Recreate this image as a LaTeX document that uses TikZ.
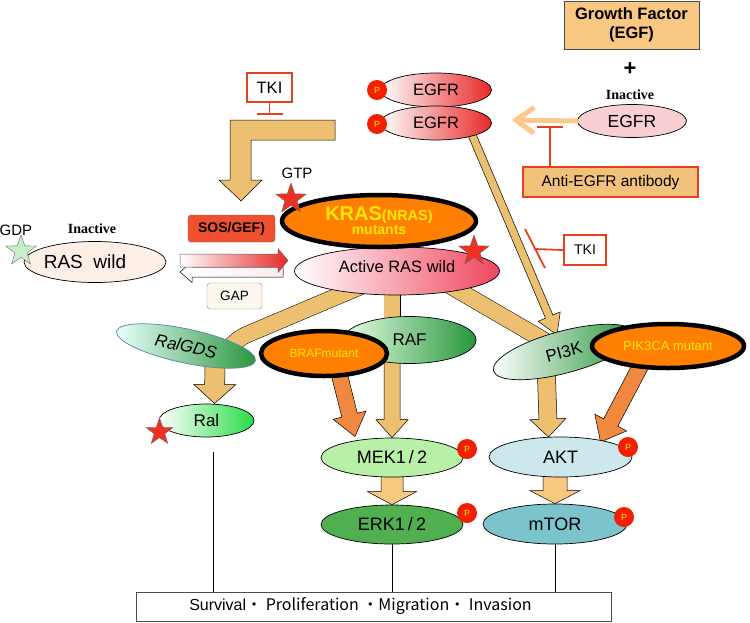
\documentclass[tikz,border=0pt]{standalone}
\usepackage{fontspec}
\setmainfont{Liberation Sans}
\newfontfamily\tnr{Liberation Serif}
\newfontfamily\cjk{Noto Sans CJK JP}
\usetikzlibrary{shapes.geometric,arrows.meta,calc}
\pgfdeclarelayer{bg}
\pgfsetlayers{bg,main}
\newcommand\fsz[1]{\fontsize{#1}{#1}\selectfont}
\newcommand\blockarr[6]{%
  \coordinate (bah) at ($(#2)!#5!(#1)$);
  \draw[#6] ($(#1)!#3!90:(#2)$) -- ($(bah)!#3!90:(#2)$) -- ($(bah)!#4!90:(#2)$) -- (#2) -- ($(bah)!#4!-90:(#2)$) -- ($(bah)!#3!-90:(#2)$) -- ($(#1)!#3!-90:(#2)$) -- cycle;}
\definecolor{tanc}{RGB}{236,192,112}
\definecolor{ltan}{RGB}{249,200,128}
\definecolor{mutor}{RGB}{255,128,0}
\definecolor{orarr}{RGB}{240,136,64}
\definecolor{starred}{RGB}{240,48,32}
\definecolor{pred}{RGB}{240,32,0}
\definecolor{yel}{RGB}{255,232,0}
\definecolor{egfred}{RGB}{232,40,40}
\definecolor{rasred}{RGB}{240,70,95}
\definecolor{egfin}{RGB}{248,208,212}
\definecolor{raswc}{RGB}{253,238,230}
\definecolor{dgreen}{RGB}{40,150,60}
\definecolor{brgreen}{RGB}{40,220,70}
\definecolor{mekc}{RGB}{184,240,168}
\definecolor{erkc}{RGB}{80,176,80}
\definecolor{aktc}{RGB}{204,232,236}
\definecolor{mtorc}{RGB}{124,196,204}
\definecolor{gfc}{RGB}{248,200,130}
\definecolor{abfill}{RGB}{242,194,124}
\definecolor{inred}{RGB}{232,64,28}
\definecolor{sosred}{RGB}{240,80,48}
\definecolor{gapc}{RGB}{253,248,238}
\definecolor{gstar}{RGB}{200,240,200}
\definecolor{lor}{RGB}{252,200,140}
\definecolor{ralb}{RGB}{90,130,170}
\tikzset{
  ell/.style={ellipse, draw=black, line width=0.7pt, inner sep=0pt},
  mut/.style={ellipse, draw=black, line width=4.5pt, fill=mutor, inner sep=0pt, text=yel},
  pdot/.style={circle, fill=pred, inner sep=0pt, minimum size=20pt, text=yel, font=\fsz{9}},
  rstar/.style={star, star points=5, star point ratio=2.5, fill=starred, draw=black!60, line width=0.4pt, inner sep=0pt, minimum size=32pt},
  band/.style={draw=black, line width=0.5pt, double=tanc, double distance=16pt},
  barr/.style={fill=tanc, draw=black, line width=0.5pt},
  inh/.style={draw=inred, line width=1.8pt, -{Bar[width=26pt]}},
  redbox/.style={draw=inred, line width=1.8pt, fill=white, inner sep=0pt},
  lbl/.style={inner sep=0pt},
}
\begin{document}
\begin{tikzpicture}[x=1pt,y=-1pt]
\useasboundingbox (0,0) rectangle (750,622);

% ---------- nodes ----------
\node[draw=black!70, fill=gfc, minimum width=135pt, minimum height=48pt, align=center, font=\bfseries\fontsize{16.5}{19}\selectfont] (gf) at (631.5,25) {Growth Factor\\(EGF)};
\node[lbl, font=\bfseries\fsz{22}] (plus) at (630,69) {+};
\node[lbl, font=\tnr\bfseries\fsz{14}] (inact2) at (630,95) {Inactive};
\node[ell, fill=egfin, minimum width=109pt, minimum height=33pt, font=\fsz{17.5}] (egfrin) at (632,121) {EGFR};
\node[draw=inred, line width=2pt, fill=abfill, minimum width=175pt, minimum height=30pt, font=\fsz{15.5}] (anti) at (610.5,182) {Anti-EGFR antibody};

\node[ell, left color=white, right color=egfred, minimum width=111pt, minimum height=34pt, font=\fsz{16.5}] (egfr1) at (436,90) {EGFR};
\node[ell, left color=white, right color=egfred, minimum width=111pt, minimum height=34pt, font=\fsz{16.5}] (egfr2) at (436,123) {EGFR};
\node[pdot] (p1) at (377,90) {P};
\node[pdot] (p2) at (377,124) {P};

\node[redbox, minimum width=45pt, minimum height=29pt, font=\fsz{16.5}] (tki1) at (269.5,87.5) {TKI};
\node[redbox, line width=1.6pt, minimum width=42pt, minimum height=30pt, font=\fsz{14}] (tki2) at (585,250) {TKI};

\node[lbl, font=\fsz{15}] (gtp) at (297,173) {GTP};
\node[lbl, font=\fsz{15}] (gdp) at (16,230) {GDP};
\node[lbl, font=\tnr\bfseries\fsz{14}] (inact1) at (92,229) {Inactive};

\node[ell, fill=raswc, minimum width=142pt, minimum height=41pt, font=\fsz{19}] (raswild) at (95,262) {\hspace*{-20pt}RAS\ \ wild};
\node[ell, left color=white, right color=rasred, minimum width=205pt, minimum height=48pt, text depth=8pt, font=\fsz{16.5}] (rasact) at (397,271) {Active RAS wild};
\node[mut, minimum width=194pt, minimum height=52pt, align=center] (kras) at (379,221) {{\bfseries\fsz{20}KRAS\fsz{14.5}(NRAS)}\\[1pt]{\bfseries\fsz{14}mutants}};

\node[draw=black!60, fill=sosred, rounded corners=3pt, minimum width=87pt, minimum height=27pt, font=\bfseries\fsz{14}] (sos) at (231.5,228.5) {SOS/GEF)};
\node[draw=black!50, fill=gapc, rounded corners=3pt, minimum width=55pt, minimum height=26pt, font=\fsz{13.5}] (gap) at (234.5,296) {GAP};

\node[ell, draw=ralb, left color=white!92!cyan, right color=dgreen, minimum width=142pt, minimum height=34pt, rotate=-12, font=\itshape\fsz{17}] (ralgds) at (186,346) {RalGDS};
\node[ell, left color=white!90!green, right color=dgreen, minimum width=133pt, minimum height=47pt, font=\fsz{17}] (raf) at (409.5,340) {RAF};
\node[mut, minimum width=126pt, minimum height=45pt, font=\fsz{12}] (braf) at (324,353.5) {BRAFmutant};
\node[ell, left color=white, right color=dgreen, minimum width=146pt, minimum height=42pt, rotate=15, font=\fsz{17}] (pi3k) at (564,352) {PI3K};
\node[mut, minimum width=152pt, minimum height=44pt, font=\fsz{13}] (pik) at (668,346) {PIK3CA mutant};

\node[ell, left color=white, right color=brgreen, minimum width=95pt, minimum height=33pt, font=\fsz{17}] (ral) at (206.5,420.5) {Ral};
\node[ell, fill=mekc, minimum width=142pt, minimum height=39pt, font=\fsz{18}] (mek) at (392,457.5) {MEK1\,/\,2};
\node[ell, fill=erkc, minimum width=142pt, minimum height=39pt, font=\fsz{18}] (erk) at (392,524.5) {ERK1\,/\,2};
\node[ell, fill=aktc, minimum width=143pt, minimum height=40pt, font=\fsz{18}] (akt) at (560.5,457) {AKT};
\node[ell, fill=mtorc, minimum width=144pt, minimum height=40pt, font=\fsz{18}] (mtor) at (555,524) {mTOR};
\node[pdot] (pm) at (467,449) {P};
\node[pdot] (pe) at (467,513) {P};
\node[pdot] (pa) at (628,447) {P};
\node[pdot] (pt) at (624,517) {P};

\node[rstar] (s1) at (291,199) {};
\node[rstar] (s2) at (474,251) {};
\node[rstar, minimum size=28pt] (s3) at (159.5,432) {};
\node[rstar, fill=gstar, draw=black!60] (s0) at (21,251) {};

\node[draw=black!70, fill=white, minimum width=475pt, minimum height=29pt, font=\fsz{16}] (out) at (373.5,606.5) {\hspace*{-26pt}Survival\cjk{・} Proliferation \cjk{・}Migration\cjk{・} Invasion};

% ---------- connectors behind nodes ----------
\begin{pgfonlayer}{bg}
  \coordinate (rgc) at (234,340);
  \coordinate (rge) at ($(ralgds.center)+(34,16)$);
  \draw[band, rounded corners=14pt] (rasact.center) -- (rgc) -- (rge);
  \draw[band] (rasact.center -| mek.north) -- (raf.center -| mek.north);
  \coordinate (rp) at ($(rasact.center)+(33,3)$);
  \draw[band] (rp) -- (pi3k.center);

  \coordinate (e2s) at ($(egfr2.center)+(31,0)$);
  \coordinate (e2t) at ($(pi3k.center)+(-7,-17)$);
  \blockarr{e2s}{e2t}{4pt}{12pt}{20pt}{barr}

  \coordinate (rgs) at ($(ralgds.center)+(29,10)$);
  \coordinate (rgt) at ($(ral.center)+(8,-17)$);
  \blockarr{rgs}{rgt}{10pt}{21pt}{19pt}{barr}

  \coordinate (bfs) at ($(braf.center)+(10,0)$);
  \coordinate (bft) at ($(mek.center)+(-37,-21)$);
  \blockarr{bfs}{bft}{8pt}{17pt}{22pt}{fill=orarr, draw=black, line width=0.5pt}

  \coordinate (rfs) at (raf.center -| mek.north);
  \blockarr{rfs}{mek.north}{8pt}{16pt}{18pt}{barr}

  \blockarr{mek.center}{erk.north}{11pt}{24.5pt}{13pt}{fill=ltan, draw=black, line width=0.5pt}

  \coordinate (pks) at ($(pi3k.center)+(-18,10)$);
  \coordinate (pkt) at ($(akt.center)+(-12,-20)$);
  \blockarr{pks}{pkt}{9pt}{18pt}{18pt}{barr}

  \coordinate (pcs) at ($(pik.center)+(-17,0)$);
  \coordinate (pct) at ($(akt.center)+(40,-15)$);
  \blockarr{pcs}{pct}{8pt}{18pt}{22pt}{fill=orarr, draw=black, line width=0.5pt}

  \coordinate (ams) at (akt.center -| mtor.north);
  \blockarr{ams}{mtor.north}{12pt}{25pt}{13pt}{fill=ltan, draw=black, line width=0.5pt}
\end{pgfonlayer}

% bent arrow from TKI region to SOS
\draw[barr] (335,120) -- (230,120) -- (230,180) -- (219,180) -- (241,201) -- (262,180) -- (251,180) -- (251,140) -- (335,140) -- cycle;

% RAS wild <-> Active RAS arrows
\coordinate (la1) at (283,272);
\coordinate (la2) at (180,272);
\blockarr{la1}{la2}{5pt}{10.5pt}{12pt}{left color=white, right color=white!70!pink, draw=black, line width=0.5pt}
\coordinate (ra1) at (180,260.5);
\coordinate (ra2) at (288,260.5);
\blockarr{ra1}{ra2}{6.5pt}{12pt}{10pt}{left color=white, right color=egfred, draw=black!60, line width=0.5pt}

% EGF activation arrow
\draw[line width=5pt, lor, line cap=round, -{Straight Barb[length=18pt,width=26pt]}] (egfrin.west) -- ($(egfr2.east)+(20,-3)$);

% inhibitions
\draw[inh] ($(anti.north west)+(28,0)$) -- ++(0,-40);
\draw[inh] (tki1.south) -- ++(0,12);
\coordinate (tb) at (534,249);
\draw[draw=inred, line width=1.8pt] (tki2.west) -- (tb);
\draw[draw=inred, line width=1.8pt] ($(tb)+(-9,-20)$) -- ($(tb)+(11,19)$);

% lines to outcome
\coordinate (ralend) at ($(ral.south)+(6.5,15)$);
\draw[line width=0.6pt] (ralend) -- (ralend |- out.north);
\draw[line width=0.6pt] (erk.south) -- (erk.south |- out.north);
\draw[line width=0.6pt] (mtor.south) -- (mtor.south |- out.north);
\end{tikzpicture}
\end{document}
